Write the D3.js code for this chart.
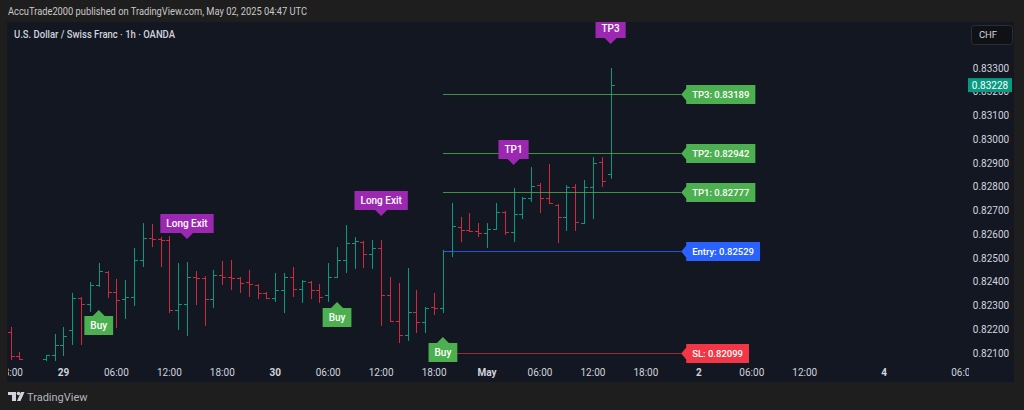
<!DOCTYPE html>
<html>
<head>
<meta charset="utf-8">
<script src="https://cdn.jsdelivr.net/npm/d3@7"></script>
<style>
  html, body { margin: 0; padding: 0; background: #1e1e1e; }
  svg { display: block; font-family: Roboto, "Liberation Sans", sans-serif; }
</style>
</head>
<body>
<div id="chart"></div>
<script>
// hourly bars, index = hours since Apr 28 18:00 (UTC)
const barIdx = [0,1,4,5,6,7,8,9,10,11,12,13,14,15,16,17,18,19,20,21,22,23,24,25,26,27,28,29,30,31,32,33,34,35,36,37,38,39,40,41,42,43,44,45,46,47,48,49,50,51,52,53,54,55,56,57,58,59,60,61,62,63,64,65,66,67,68]
const opens  = [.82188,.82087,.82075,.82092,.82134,.82197,.82332,.82306,.82386,.82441,.82357,.82327,.82336,.82492,.82584,.82580,.82576,.82281,.82306,.82420,.82416,.82327,.82428,.82420,.82416,.82399,.82386,.82353,.82332,.82365,.82420,.82370,.82399,.82365,.82344,.82420,.82492,.82563,.82567,.82517,.82542,.82344,.82235,.82176,.82273,.82231,.82294,.82290,.82529,.82631,.82618,.82614,.82605,.82622,.82694,.82610,.82685,.82753,.82807,.82753,.82723,.82673,.82799,.82647,.82799,.82904,.82854]
const highs  = [.82210,.82104,.82092,.82180,.82210,.82353,.82336,.82399,.82479,.82445,.82412,.82407,.82542,.82647,.82643,.82588,.82593,.82479,.82483,.82445,.82424,.82450,.82487,.82492,.82420,.82450,.82390,.82357,.82437,.82437,.82462,.82407,.82403,.82390,.82479,.82546,.82639,.82588,.82572,.82576,.82576,.82420,.82395,.82458,.82365,.82294,.82353,.82534,.82732,.82673,.82689,.82647,.82647,.82732,.82698,.82795,.82757,.82883,.82816,.82896,.82727,.82807,.82811,.82828,.82925,.82925,.83300]
const lows   = [.82071,.82071,.82066,.82066,.82087,.82134,.82134,.82273,.82378,.82332,.82205,.82243,.82298,.82462,.82546,.82462,.82268,.82197,.82172,.82302,.82214,.82290,.82386,.82365,.82353,.82336,.82327,.82327,.82315,.82268,.82336,.82311,.82327,.82311,.82315,.82415,.82437,.82454,.82458,.82454,.82214,.82231,.82142,.82151,.82184,.82184,.82260,.82268,.82504,.82567,.82609,.82588,.82542,.82618,.82597,.82567,.82664,.82736,.82689,.82727,.82563,.82614,.82614,.82643,.82664,.82799,.82833]
const closes = [.82087,.82075,.82092,.82134,.82172,.82332,.82306,.82386,.82445,.82357,.82323,.82336,.82492,.82584,.82580,.82576,.82281,.82306,.82420,.82416,.82327,.82428,.82420,.82416,.82395,.82391,.82353,.82332,.82365,.82420,.82370,.82403,.82365,.82336,.82420,.82492,.82563,.82572,.82517,.82542,.82344,.82235,.82176,.82273,.82231,.82290,.82290,.82529,.82635,.82618,.82614,.82605,.82622,.82694,.82610,.82685,.82753,.82803,.82753,.82732,.82673,.82799,.82652,.82799,.82900,.82824,.83228]

// time axis labels (hour index, text)
const timeTickIdx = [0,6,12,18,24,30,36,42,48,54,60,66,72,78,84,90,99,108]
const timeTickText = ["18:00","29","06:00","12:00","18:00","30","06:00","12:00","18:00","May","06:00","12:00","18:00","2","06:00","12:00","4","06:00"]
const priceTicks = [0.821,0.822,0.823,0.824,0.825,0.826,0.827,0.828,0.829,0.830,0.831,0.832,0.833]
const lastPrice = 0.83228

// strategy signals
const buyIdx = [10, 37, 49]
const buyPrice = [0.82281, 0.82315, 0.82167]
const exitIdx = [20, 42]
const exitPrice = [0.82580, 0.82677]
const hitText = ["TP1", "TP3"]
const hitIdx = [57, 68]
const hitPrice = [0.82892, 0.83401]

// trade levels
const levelNames = ["TP3", "TP2", "TP1", "Entry", "SL"]
const levelValues = [0.83189, 0.82942, 0.82777, 0.82529, 0.82099]
const levelStart = 49
const levelEnd = 76

const W = 1024, H = 410
const svg = d3.select("#chart").append("svg").attr("width", W).attr("height", H)

const x = d3.scaleLinear().domain([0, 108]).range([10.5, 10.5 + 108 * 8.825])
const y = d3.scaleLinear().domain([0.821, 0.833]).range([353, 68])

// frame
svg.append("rect").attr("width", W).attr("height", H).attr("fill", "#1e1e1e")
svg.append("rect").attr("x", 7).attr("y", 22).attr("width", 1007).attr("height", 360).attr("fill", "#131722")

svg.append("text").attr("x", 8).attr("y", 15)
    .attr("fill", "#c9c9c9").style("font-size", "10.5px")
    .attr("textLength", 299).attr("lengthAdjust", "spacingAndGlyphs")
    .text("AccuTrade2000 published on TradingView.com, May 02, 2025 04:47 UTC")

svg.append("text").attr("x", 14).attr("y", 38)
    .attr("fill", "#d1d4dc").style("font-size", "10px").style("font-weight", "500")
    .attr("textLength", 161).attr("lengthAdjust", "spacingAndGlyphs")
    .text("U.S. Dollar / Swiss Franc · 1h · OANDA")

// plot clip
svg.append("clipPath").attr("id", "plot").append("rect")
    .attr("x", 8).attr("y", 22).attr("width", 961).attr("height", 360)
const plot = svg.append("g").attr("clip-path", "url(#plot)")

// price axis
const yAxis = svg.append("g")
yAxis.selectAll("text").data(priceTicks).join("text")
    .attr("x", 991).attr("y", d => y(d)).attr("dy", "0.35em")
    .attr("text-anchor", "middle")
    .attr("fill", "#d1d4dc").style("font-size", "10px")
    .text(d => d.toFixed(5))

const cur = yAxis.append("g").attr("transform", `translate(968,${y(lastPrice)})`)
cur.append("rect").attr("x", 0).attr("y", -7).attr("width", 44).attr("height", 14).attr("fill", "#089981")
cur.append("text").attr("x", 22).attr("dy", "0.35em").attr("text-anchor", "middle")
    .attr("fill", "#ffffff").style("font-size", "10px").text(lastPrice.toFixed(5))

const chf = svg.append("g")
chf.append("rect").attr("x", 971.5).attr("y", 25.5).attr("width", 41).attr("height", 19).attr("rx", 3)
    .attr("fill", "#0f1115").attr("stroke", "#2a2e39")
chf.append("text").attr("x", 988).attr("y", 35).attr("dy", "0.35em").attr("text-anchor", "middle")
    .attr("fill", "#d1d4dc").style("font-size", "9.5px").text("CHF")

// time axis
svg.append("g").attr("clip-path", "url(#plot)")
    .selectAll("text").data(timeTickIdx).join("text")
    .attr("x", d => x(d)).attr("y", 376).attr("text-anchor", "middle")
    .attr("fill", "#d1d4dc").style("font-size", "10px")
    .style("font-weight", (d, i) => /:/.test(timeTickText[i]) ? "400" : "700")
    .text((d, i) => timeTickText[i])

// OHLC bars
const bars = barIdx.map((t, i) => ({t, o: opens[i], h: highs[i], l: lows[i], c: closes[i]}))
const up = "#089981", down = "#d12a3e"
const bg = plot.append("g").selectAll("g").data(bars).join("g")
    .attr("stroke", d => d.c >= d.o ? up : down).attr("stroke-width", 1)
bg.append("line").attr("x1", d => Math.round(x(d.t)) + 0.5).attr("x2", d => Math.round(x(d.t)) + 0.5)
    .attr("y1", d => y(d.h)).attr("y2", d => y(d.l))
bg.append("line").attr("x1", d => Math.round(x(d.t)) - 3).attr("x2", d => Math.round(x(d.t)) + 0.5)
    .attr("y1", d => Math.round(y(d.o)) + 0.5).attr("y2", d => Math.round(y(d.o)) + 0.5)
bg.append("line").attr("x1", d => Math.round(x(d.t)) + 0.5).attr("x2", d => Math.round(x(d.t)) + 4)
    .attr("y1", d => Math.round(y(d.c)) + 0.5).attr("y2", d => Math.round(y(d.c)) + 0.5)

// level lines + right labels
const levelColor = (name) => name === "Entry" ? "#2962ff" : name === "SL" ? "#f23645" : "#4caf50"
const lv = plot.append("g")
levelNames.forEach((name, i) => {
    const yy = Math.round(y(levelValues[i])) + 0.5
    lv.append("line").attr("x1", x(levelStart)).attr("x2", x(levelEnd))
        .attr("y1", yy).attr("y2", yy)
        .attr("stroke", levelColor(name)).attr("stroke-opacity", name === "SL" ? 0.6 : 0.8)
    const g = lv.append("g").attr("transform", `translate(${x(levelEnd)},${yy})`)
    const txt = g.append("text").attr("x", 11).attr("dy", "0.35em")
        .attr("fill", "#ffffff").style("font-size", "9.5px").style("font-weight", "500")
        .text(`${name}: ${levelValues[i].toFixed(5)}`)
    const w = txt.node().getComputedTextLength() + 12
    g.insert("path", "text")
        .attr("d", `M0,0 L5,-6 L5,-9.5 L${5 + w},-9.5 L${5 + w},9.5 L5,9.5 L5,6 Z`)
        .attr("fill", levelColor(name))
})

// signal labels
function sigLabel(text, idx, price, color, dir) {
    const g = plot.append("g").attr("transform", `translate(${x(idx)},${y(price)})`)
    const cy = dir === "up" ? 15.5 : -15.5
    const txt = g.append("text").attr("y", cy).attr("dy", "0.35em").attr("text-anchor", "middle")
        .attr("fill", "#ffffff").style("font-size", "10px").style("font-weight", "500").text(text)
    const w = txt.node().getComputedTextLength() + 12
    const s = dir === "up" ? 1 : -1
    g.insert("path", "text")
        .attr("d", `M0,0 L6,${6 * s} L${w / 2},${6 * s} L${w / 2},${25 * s} L${-w / 2},${25 * s} L${-w / 2},${6 * s} L-6,${6 * s} Z`)
        .attr("fill", color)
}
buyIdx.forEach((t, i) => sigLabel("Buy", t, buyPrice[i], "#4caf50", "up"))
exitIdx.forEach((t, i) => sigLabel("Long Exit", t, exitPrice[i], "#9c27b0", "down"))
hitIdx.forEach((t, i) => sigLabel(hitText[i], t, hitPrice[i], "#9c27b0", "down"))

// footer logo
const logo = svg.append("g").attr("fill", "#d1d4dc")
logo.append("rect").attr("x", 8).attr("y", 392).attr("width", 8).attr("height", 3)
logo.append("rect").attr("x", 12).attr("y", 392).attr("width", 4).attr("height", 9)
logo.append("circle").attr("cx", 18.5).attr("cy", 393.5).attr("r", 1.8)
logo.append("path").attr("d", "M17,401 L21,392 L24.5,392 L20.5,401 Z")
svg.append("text").attr("x", 27).attr("y", 397).attr("dy", "0.35em")
    .attr("fill", "#b2b5be").style("font-size", "11px").text("TradingView")
</script>
</body>
</html>
